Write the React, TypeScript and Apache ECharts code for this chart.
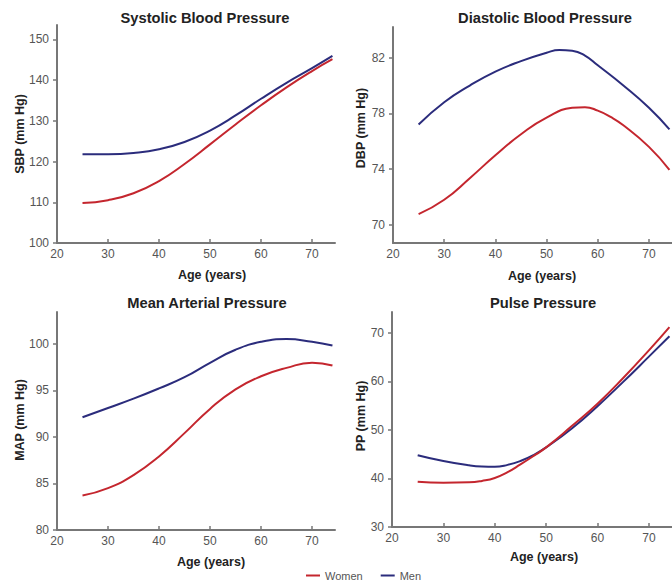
import React, { useEffect, useRef } from "react";
import * as echarts from "echarts";

const ages = [25, 30, 35, 40, 45, 50, 55, 60, 65, 70, 74];
const sbpWomen = [109.8, 110.5, 112.2, 115.2, 119.4, 124.2, 129.1, 133.8, 138.2, 142.2, 145.1];
const sbpMen = [121.8, 121.8, 122.1, 123.0, 124.8, 127.6, 131.3, 135.4, 139.3, 142.9, 145.9];

const dbpWomenAges = [25, 30, 35, 40, 45, 50, 55, 57.5, 60, 62.5, 65, 70, 74];
const dbpWomen = [70.77, 71.8, 73.35, 75.0, 76.5, 77.7, 78.4, 78.45, 78.2, 77.75, 77.15, 75.6, 73.95];
const dbpMenAges = [25, 30, 35, 40, 45, 50, 52.5, 55, 57.5, 60, 65, 70, 74];
const dbpMen = [77.2, 78.8, 80.0, 81.0, 81.75, 82.35, 82.55, 82.5, 82.15, 81.45, 80.0, 78.4, 76.85];

const mapWomen = [83.7, 84.5, 85.9, 87.9, 90.4, 93.0, 95.1, 96.5, 97.4, 97.95, 97.65];
const mapMen = [92.1, 93.1, 94.1, 95.2, 96.4, 97.95, 99.35, 100.2, 100.5, 100.2, 99.8];

const ppAges = [25, 30, 35, 37.5, 40, 42.5, 45, 47.5, 50, 55, 60, 65, 70, 74];
const ppWomen = [39.3, 39.1, 39.2, 39.5, 40.1, 41.3, 42.9, 44.6, 46.4, 50.8, 55.4, 60.7, 66.4, 71.2];
const ppMen = [44.8, 43.6, 42.7, 42.45, 42.4, 42.8, 43.6, 44.8, 46.4, 50.3, 54.9, 59.9, 65.1, 69.3];

const xTicks = [20, 30, 40, 50, 60, 70];
const sbpTicks = [100, 110, 120, 130, 140, 150];
const dbpTicks = [70, 74, 78, 82];
const mapTicks = [80, 85, 90, 95, 100];
const ppTicks = [30, 40, 50, 60, 70];

const titles = ["Systolic Blood Pressure", "Diastolic Blood Pressure", "Mean Arterial Pressure", "Pulse Pressure"];
const yNames = ["SBP (mm Hg)", "DBP (mm Hg)", "MAP (mm Hg)", "PP (mm Hg)"];
const xName = "Age (years)";
const seriesNames = ["Women", "Men"];

const RED = "#c4262e";
const BLUE = "#2b2c7c";
const FONT = "Liberation Sans, Arial, sans-serif";

export default function App() {
  const ref = useRef<HTMLDivElement>(null);
  useEffect(() => {
    if (!ref.current) return;
    const chart = echarts.init(ref.current, undefined, { renderer: "svg" });

    const grids = [
      { left: 57, top: 25, width: 278, height: 218 },
      { left: 393, top: 27, width: 279, height: 216 },
      { left: 57, top: 312, width: 278, height: 218 },
      { left: 392, top: 312, width: 280, height: 215 },
    ];
    const yRanges = [
      [100, 153.5, sbpTicks],
      [68.7, 84.2, dbpTicks],
      [80, 103.4, mapTicks],
      [30, 74.3, ppTicks],
    ] as const;
    const data: [number[], number[], number[], number[]][] = [
      [ages, sbpWomen, ages, sbpMen],
      [dbpWomenAges, dbpWomen, dbpMenAges, dbpMen],
      [ages, mapWomen, ages, mapMen],
      [ppAges, ppWomen, ppAges, ppMen],
    ];

    const axisLine = { lineStyle: { color: "#777", width: 2 } };
    const xAxis = grids.map((_, i) => ({
      type: "value",
      gridIndex: i,
      min: 20,
      max: 74.5,
      axisLine: { show: true, onZero: false, ...axisLine },
      axisTick: { show: true, inside: true, length: 4, customValues: xTicks, lineStyle: { color: "#777", width: 1.5 } },
      axisLabel: { customValues: xTicks, margin: 5, color: "#555", fontSize: 12, fontFamily: FONT },
      splitLine: { show: false },
    }));
    const yAxis = grids.map((_, i) => ({
      type: "value",
      gridIndex: i,
      min: yRanges[i][0],
      max: yRanges[i][1],
      axisLine: { show: true, ...axisLine },
      axisTick: { show: true, length: 4, customValues: yRanges[i][2] as unknown as number[], lineStyle: { color: "#777", width: 1.5 } },
      axisLabel: { customValues: yRanges[i][2] as unknown as number[], margin: 8, color: "#555", fontSize: 12, fontFamily: FONT },
      splitLine: { show: false },
    }));

    const series: any[] = [];
    data.forEach((d, i) => {
      [0, 1].forEach((k) => {
        const xs = d[k * 2];
        const vals = d[k * 2 + 1];
        series.push({
          type: "line",
          name: seriesNames[k],
          xAxisIndex: i,
          yAxisIndex: i,
          data: xs.map((a, j) => [a, vals[j]]),
          smooth: 0.5,
          smoothConstraint: false,
          showSymbol: false,
          symbol: "none",
          lineStyle: { color: k === 0 ? RED : BLUE, width: 2 },
          itemStyle: { color: k === 0 ? RED : BLUE },
          z: k === 0 ? 3 : 2,
        });
      });
    });

    const titlePos = [
      [205, 18],
      [545, 18],
      [207, 303],
      [543, 303],
    ];
    const xNamePos = [
      [212, 275],
      [542, 276],
      [211, 562],
      [544, 557],
    ];
    const yNamePos = [
      [20, 134],
      [361, 128],
      [20, 420],
      [361, 416],
    ];
    const graphic: any[] = [];
    for (let i = 0; i < 4; i++) {
      graphic.push({
        type: "text",
        x: titlePos[i][0],
        y: titlePos[i][1],
        style: { text: titles[i], align: "center", verticalAlign: "middle", fontSize: 14.7, fontWeight: "bold", fill: "#222", fontFamily: FONT },
      });
      graphic.push({
        type: "text",
        x: xNamePos[i][0],
        y: xNamePos[i][1],
        style: { text: xName, align: "center", verticalAlign: "middle", fontSize: 12.5, fontWeight: "bold", fill: "#222", fontFamily: FONT },
      });
      graphic.push({
        type: "text",
        x: yNamePos[i][0],
        y: yNamePos[i][1],
        rotation: Math.PI / 2,
        style: { text: yNames[i], align: "center", verticalAlign: "middle", fontSize: 12.5, fontWeight: "bold", fill: "#222", fontFamily: FONT },
      });
    }

    chart.setOption({
      animation: false,
      backgroundColor: "#fff",
      grid: grids,
      xAxis,
      yAxis,
      series,
      graphic,
      legend: {
        data: seriesNames,
        left: 301,
        top: 565,
        itemWidth: 14,
        itemHeight: 2,
        itemGap: 18,
        icon: "rect",
        textStyle: { color: "#555", fontSize: 11, fontFamily: FONT },
      },
    });
    return () => chart.dispose();
  }, []);
  return <div ref={ref} style={{ position: "fixed", left: 0, top: 0, width: 672, height: 582 }} />;
}
